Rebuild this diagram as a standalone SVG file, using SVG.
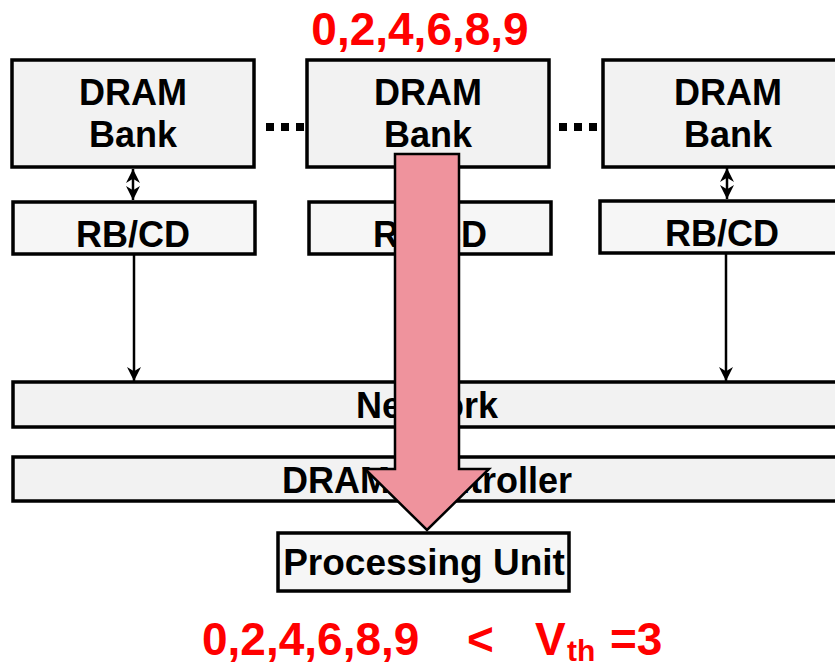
<svg xmlns="http://www.w3.org/2000/svg" width="835" height="669" viewBox="0 0 835 669">
<style>
.box{fill:#f2f2f2;stroke:#000;stroke-width:3.5}
.rb{fill:#f6f6f6;stroke:#000;stroke-width:3.5}
.t{font-family:"Liberation Sans",Arial,sans-serif;font-weight:bold;font-size:36px;fill:#000;text-anchor:middle}
.r{font-family:"Liberation Sans",Arial,sans-serif;font-weight:bold;font-size:46px;fill:#ff0000}
.ln{stroke:#000;stroke-width:2.5;fill:none}
.dot{fill:#000}
</style>
<defs>
<marker id="ah" viewBox="0 0 10 10" refX="10" refY="5" markerWidth="14" markerHeight="14" markerUnits="userSpaceOnUse" orient="auto-start-reverse">
<path d="M0,0 L10,5 L0,10 L3,5 Z" fill="#000"/>
</marker>
<marker id="ah2" viewBox="0 0 10 10" refX="10" refY="5" markerWidth="14" markerHeight="14" markerUnits="userSpaceOnUse" orient="auto">
<path d="M0,0 L10,5 L0,10 L3,5 Z" fill="#000"/>
</marker>
</defs>

<text class="r" x="420" y="45" text-anchor="middle">0,2,4,6,8,9</text>

<g id="bank1"><rect class="box" x="12" y="60" width="242" height="107"/><text class="t" x="133" y="105">DRAM</text><text class="t" x="133" y="147">Bank</text></g>
<g id="bank2"><rect class="box" x="307" y="60" width="242" height="107"/><text class="t" x="428" y="105">DRAM</text><text class="t" x="428" y="147">Bank</text></g>
<g id="bank3"><rect class="box" x="603" y="60" width="240" height="107"/><text class="t" x="728" y="105">DRAM</text><text class="t" x="728" y="147">Bank</text></g>

<g id="dots">
<rect class="dot" x="266" y="123" width="8" height="8"/><rect class="dot" x="281" y="123" width="8" height="8"/><rect class="dot" x="296" y="123" width="8" height="8"/>
<rect class="dot" x="559" y="123" width="8" height="8"/><rect class="dot" x="574" y="123" width="8" height="8"/><rect class="dot" x="589" y="123" width="8" height="8"/>
</g>

<g id="rb1"><rect class="rb" x="13" y="202" width="242" height="52"/><text class="t" x="133" y="247">RB/CD</text></g>
<g id="rb2"><rect class="rb" x="309" y="202" width="242" height="52"/><text class="t" x="430" y="247">RB/CD</text></g>
<g id="rb3"><rect class="rb" x="600" y="201" width="243" height="52"/><text class="t" x="722" y="246">RB/CD</text></g>

<g id="network"><rect class="box" x="13" y="382" width="830" height="45"/><text class="t" x="427" y="418">Network</text></g>
<g id="controller"><rect class="box" x="13" y="457" width="830" height="44"/><text class="t" x="427" y="493">DRAM Controller</text></g>

<g id="connectors">
<line class="ln" x1="133" y1="169" x2="133" y2="200" marker-start="url(#ah)" marker-end="url(#ah)"/>
<line class="ln" x1="727" y1="168" x2="727" y2="199" marker-start="url(#ah)" marker-end="url(#ah)"/>
<line class="ln" x1="134" y1="254" x2="134" y2="381" marker-end="url(#ah2)"/>
<line class="ln" x1="726" y1="253" x2="726" y2="381" marker-end="url(#ah2)"/>
</g>

<g id="flow">
<polygon points="395,154 459,154 459,469 489,469 427,530 365,469 395,469" fill="#ef939d" stroke="#000" stroke-width="2.5"/>
</g>

<g id="pu"><rect class="rb" x="278" y="533" width="291" height="58"/><text class="t" x="424" y="575" style="font-size:37px">Processing Unit</text></g>

<g id="cond">
<text class="r" x="202" y="655">0,2,4,6,8,9</text>
<text class="r" x="467" y="655">&lt;</text>
<text class="r" x="535" y="655">V</text>
<text class="r" x="567" y="661" style="font-size:30px">th</text>
<text class="r" x="610" y="655">=3</text>
</g>
</svg>
